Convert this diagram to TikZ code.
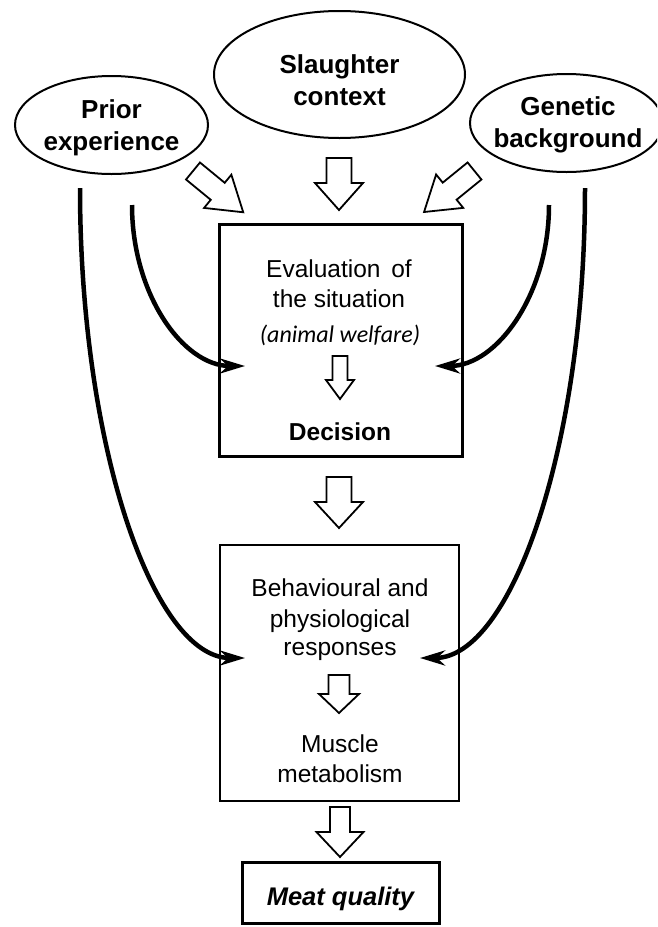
\documentclass[tikz,border=0pt]{standalone}
\usepackage{fontspec}
\setmainfont{Liberation Sans}
\newfontfamily\calib{Carlito}
\usetikzlibrary{arrows.meta,shapes.geometric}
\newcommand\barr[7]{\begin{scope}[shift={(#1,#2)},rotate=#3]
\draw[blockarrow] (0,-#6) -- (#4-#5,-#6) -- (#4-#5,-#7) -- (#4,0) -- (#4-#5,#7) -- (#4-#5,#6) -- (0,#6) -- cycle;
\end{scope}}
\begin{document}
\begin{tikzpicture}[x=1pt,y=-1pt,
  oval/.style={draw, ellipse, line width=2pt, inner sep=0pt},
  thickbox/.style={draw, rectangle, line width=3pt, inner sep=0pt},
  thinbox/.style={draw, rectangle, line width=1.5pt, inner sep=0pt},
  ovaltext/.style={anchor=base, inner sep=0pt, font=\fontsize{26}{31}\selectfont\bfseries},
  boxtext/.style={anchor=base, inner sep=0pt, font=\fontsize{24.5}{30}\selectfont},
  blockarrow/.style={draw, fill=white, line width=1.8pt, line join=miter},
  curve/.style={line width=4.5pt, -{Stealth[length=25pt,width=15pt,inset=8pt]}}
]
\useasboundingbox (0,0) rectangle (657,927);
\clip (0,0) rectangle (657,927);

% ellipses
\node[oval, minimum width=193, minimum height=98] (prior) at (111.5,125) {};
\node[oval, minimum width=251, minimum height=127] (slaughter) at (339.5,74.5) {};
\node[oval, minimum width=193, minimum height=98] (genetic) at (566.5,123) {};
\node[ovaltext] (t1) at (111.5,118) {Prior};
\node[ovaltext] (t2) at (111.5,150) {experience};
\node[ovaltext] (t3) at (339.5,73) {Slaughter};
\node[ovaltext] (t4) at (339.5,105) {context};
\node[ovaltext] (t5) at (568,115) {Genetic};
\node[ovaltext] (t6) at (568,147) {background};

% boxes
\node[thickbox, minimum width=243, minimum height=232] (eval) at (340.5,340) {};
\node[thinbox, minimum width=239, minimum height=256] (resp) at (339.5,673) {};
\node[thickbox, minimum width=197, minimum height=61] (meat) at (340.5,892.5) {};

\node[boxtext] (b1) at (339,277) {Evaluation\hspace{4pt} of};
\node[boxtext] (b2) at (339,307) {the situation};
\node[boxtext, font=\fontsize{24}{29}\selectfont\calib\itshape] (b3) at (340,342) {(animal welfare)};
\node[boxtext, font=\fontsize{24.5}{30}\selectfont\bfseries] (b4) at (340,440) {Decision};
\node[boxtext] (c1) at (340,596) {Behavioural and};
\node[boxtext] (c2) at (340,627) {physiological};
\node[boxtext] (c3) at (340,655) {responses};
\node[boxtext] (c4) at (340,752) {Muscle};
\node[boxtext] (c5) at (340,782) {metabolism};
\node[boxtext, font=\fontsize{25.5}{30}\selectfont\bfseries\itshape] (m1) at (340.5,905) {Meat quality};

% block arrows: tail x, tail y, angle, length, head length, shaft half, head half
\barr{193}{171}{-39.4}{65}{33}{11}{21.5}
\barr{339}{158}{-90}{52}{27}{12.5}{24}
\barr{474.5}{171}{-140.9}{65}{33}{11}{21.5}
\barr{340}{356}{-90}{43}{19}{7.5}{14}
\barr{339}{477}{-90}{51}{26}{12.5}{24}
\barr{339}{675}{-90}{38}{19}{10.5}{20}
\barr{340}{807}{-90}{50}{25}{10}{23.5}

% curved arrows
\coordinate (s1) at (80,188);
\coordinate (s2) at (132,205);
\coordinate (s3) at (549,205);
\coordinate (s4) at (585,188);
\coordinate (e1) at (245,658);
\coordinate (e2) at (245,366);
\coordinate (e3) at (435,366);
\coordinate (e4) at (420,658);
\draw[curve] (s1) .. controls (80,448) and (154,658) .. (e1);
\draw[curve] (s2) .. controls (132,294) and (183,366) .. (e2);
\draw[curve] (s3) .. controls (549,294) and (497,366) .. (e3);
\draw[curve] (s4) .. controls (585,448) and (511,658) .. (e4);
\end{tikzpicture}
\end{document}
